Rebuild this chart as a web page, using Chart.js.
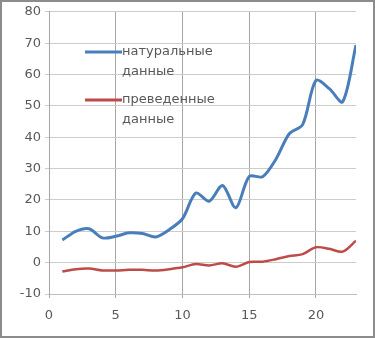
<!DOCTYPE html>
<html>
<head>
<meta charset="utf-8">
<script src="https://cdn.jsdelivr.net/npm/chart.js@4/dist/chart.umd.min.js"></script>
<style>
  html, body { margin: 0; padding: 0; background: #fff; }
  #wrap { width: 375px; height: 338px; }
</style>
</head>
<body>
<div id="wrap"><canvas id="lineChart" width="375" height="338"></canvas></div>
<script>
// x values (1..23)
const xValues = [1, 2, 3, 4, 5, 6, 7, 8, 9, 10, 11, 12, 13, 14, 15, 16, 17, 18, 19, 20, 21, 22, 23];
// blue series
const naturalData = [7.2, 10, 10.8, 7.9, 8.4, 9.5, 9.3, 8.2, 10.5, 14, 22.2, 19.6, 24.6, 17.5, 27.5, 27.4, 33, 41.1, 44, 58.1, 55.5, 51.3, 69.4];
// red series
const reducedData = [-2.8, -2.1, -1.9, -2.5, -2.5, -2.3, -2.3, -2.5, -2.1, -1.5, -0.4, -0.9, -0.2, -1.3, 0.2, 0.3, 1.1, 2.1, 2.7, 4.9, 4.4, 3.5, 7];
const seriesLabels = [['натуральные', 'данные'], ['преведенные', 'данные']];
const xTicks = [0, 5, 10, 15, 20];

const toPoints = ys => xValues.map((x, i) => ({ x: x, y: ys[i] }));

// white background + thin frame
const framePlugin = {
    id: 'frame',
    beforeDraw(chart) {
        const ctx = chart.ctx;
        ctx.save();
        ctx.fillStyle = '#fff';
        ctx.fillRect(0, 0, chart.width, chart.height);
        ctx.restore();
    },
    afterDraw(chart) {
        const ctx = chart.ctx;
        ctx.save();
        ctx.strokeStyle = '#8c8c8c';
        ctx.lineWidth = 2;
        ctx.strokeRect(1, 1, chart.width - 2, chart.height - 2);
        ctx.restore();
    }
};

// legend inside plot, two-line labels like the original
const innerLegend = {
    id: 'innerLegend',
    afterDatasetsDraw(chart) {
        const ctx = chart.ctx;
        const rows = [52, 100];
        ctx.save();
        ctx.font = '13px "DejaVu Sans", sans-serif';
        ctx.textBaseline = 'middle';
        chart.data.datasets.forEach((ds, i) => {
            const y = rows[i];
            ctx.strokeStyle = ds.borderColor;
            ctx.lineWidth = 3;
            ctx.beginPath();
            ctx.moveTo(85, y);
            ctx.lineTo(122, y);
            ctx.stroke();
            ctx.fillStyle = '#595959';
            ds.label.forEach((line, j) => ctx.fillText(line, 122, y + j * 20));
        });
        ctx.restore();
    }
};

const content = document.getElementById('lineChart').getContext('2d');
new Chart(content, {
    type: 'line',
    data: {
        datasets: [{
            label: seriesLabels[0],
            data: toPoints(naturalData),
            borderColor: '#4a7ebb',
            borderWidth: 3,
            pointRadius: 0,
            tension: 0.3,
            fill: false
        }, {
            label: seriesLabels[1],
            data: toPoints(reducedData),
            borderColor: '#be4b48',
            borderWidth: 2.5,
            pointRadius: 0,
            tension: 0.3,
            fill: false
        }]
    },
    options: {
        responsive: false,
        animation: false,
        layout: { padding: { left: 0, right: 19, top: 10, bottom: 0 } },
        plugins: {
            legend: { display: false },
            tooltip: { enabled: false }
        },
        scales: {
            x: {
                type: 'linear',
                min: 0,
                max: 23,
                afterBuildTicks: axis => { axis.ticks = xTicks.map(v => ({ value: v })); },
                afterFit: axis => { axis.height = 44; },
                grid: { color: '#a6a6a6', tickLength: 4 },
                border: { color: '#bfbfbf' },
                ticks: {
                    color: '#595959',
                    padding: 10,
                    maxRotation: 0,
                    font: { family: '"DejaVu Sans", sans-serif', size: 13 }
                }
            },
            y: {
                min: -10,
                max: 80,
                afterFit: axis => { axis.width = 49; },
                grid: { color: '#cccccc', tickLength: 4 },
                border: { color: '#a6a6a6' },
                ticks: {
                    stepSize: 10,
                    color: '#595959',
                    padding: 4,
                    font: { family: '"DejaVu Sans", sans-serif', size: 13 }
                }
            }
        }
    },
    plugins: [framePlugin, innerLegend]
});
</script>
</body>
</html>
